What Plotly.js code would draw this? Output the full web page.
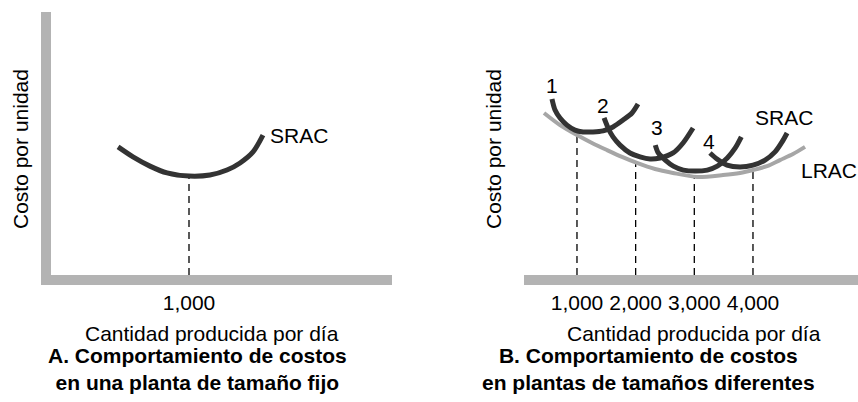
<!DOCTYPE html>
<html>
<head>
<meta charset="utf-8">
<script src="https://cdn.plot.ly/plotly-3.0.1.min.js"></script>
<style>
  html, body { margin: 0; padding: 0; background: #fff; }
  #chart { width: 858px; height: 402px; }
</style>
</head>
<body>
<div id="chart"></div>
<script>
// Panel A - una planta de tamaño fijo
const fixedQty = [486, 594, 717, 841, 1000, 1152, 1275, 1370, 1464, 1536];
const fixedCost = [48.7, 44.9, 41.4, 38.8, 37.6, 38.0, 39.9, 42.6, 46.8, 53.2];
const fixedTicks = [1000];
const fixedTickText = ['1,000'];
const fixedMinCost = [37.6];

// Panel B - plantas de tamaños diferentes
const srac1Qty = [574, 626, 711, 830, 966, 1103, 1273, 1444, 1614, 1785, 1938, 2040];
const srac1Cost = [66.9, 62.7, 59.7, 57.0, 55.1, 54.4, 54.4, 54.8, 56.3, 58.9, 61.6, 65.0];
const srac2Qty = [1462, 1530, 1614, 1734, 1904, 2075, 2245, 2416, 2638, 2808, 2979];
const srac2Cost = [59.7, 55.9, 52.5, 49.4, 46.4, 44.9, 44.1, 44.5, 46.4, 50.2, 55.9];
const srac3Qty = [2335, 2386, 2505, 2642, 2812, 3017, 3221, 3392, 3562, 3698, 3801];
const srac3Cost = [49.4, 46.4, 43.7, 41.4, 39.9, 39.5, 39.9, 41.4, 44.5, 48.3, 52.5];
const srac4Qty = [3267, 3387, 3557, 3779, 4001, 4206, 4376, 4496, 4581];
const srac4Cost = [46.4, 44.1, 41.8, 41.1, 41.8, 43.7, 46.8, 50.6, 54.0];
const lracQty = [438, 711, 1000, 1256, 1512, 1768, 2023, 2330, 2637, 3046, 3489, 3779, 4000, 4239, 4460, 4682, 4887];
const lracCost = [61.6, 57.0, 53.2, 50.2, 47.5, 44.9, 42.6, 40.3, 38.8, 37.3, 38.0, 38.8, 39.9, 41.4, 43.7, 46.0, 48.7];
const plantTicks = [1000, 2000, 3000, 4000];
const plantTickText = ['1,000', '2,000', '3,000', '4,000'];
const plantMinCost = [53.2, 42.8, 37.5, 39.9];

const FONT = 'Liberation Sans, Arial, Helvetica, sans-serif';
const FS = 21;
const DARK = '#333333';
const AXIS = '#b3b3b3';

function curve(x, y, xa, color, width) {
    return {
        x: x, y: y, xaxis: xa, yaxis: 'y',
        type: 'scatter', mode: 'lines',
        line: { color: color, width: width, shape: 'spline', smoothing: 0.8 },
        hoverinfo: 'skip', showlegend: false
    };
}

function dropLine(q, c, xa) {
    return {
        x: [q, q], y: [0, c], xaxis: xa, yaxis: 'y',
        type: 'scatter', mode: 'lines',
        line: { color: '#000', width: 1.3, dash: '7px,5px' },
        hoverinfo: 'skip', showlegend: false
    };
}

const data = [];
fixedTicks.forEach((q, i) => data.push(dropLine(q, fixedMinCost[i], 'x')));
data.push(curve(fixedQty, fixedCost, 'x', DARK, 5));

plantTicks.forEach((q, i) => data.push(dropLine(q, plantMinCost[i], 'x2')));
data.push(curve(lracQty, lracCost, 'x2', '#a6a6a6', 4));
data.push(curve(srac1Qty, srac1Cost, 'x2', DARK, 5));
data.push(curve(srac2Qty, srac2Cost, 'x2', DARK, 5));
data.push(curve(srac3Qty, srac3Cost, 'x2', DARK, 5));
data.push(curve(srac4Qty, srac4Cost, 'x2', DARK, 5));

const axisBase = {
    showline: true, linewidth: 10, linecolor: AXIS,
    showgrid: false, zeroline: false, ticks: '',
    fixedrange: true,
    tickfont: { family: FONT, size: FS, color: '#000' }
};

function label(text, x, y, xref, extra) {
    return Object.assign({
        text: text, x: x, y: y, xref: xref, yref: xref === 'paper' ? 'paper' : 'y',
        showarrow: false, xanchor: 'center', yanchor: 'middle',
        font: { family: FONT, size: FS, color: '#000' }
    }, extra || {});
}

const annotations = [
    label('SRAC', 1797, 53.2, 'x'),
    label('1', 574, 71.9, 'x2'),
    label('2', 1443, 64.6, 'x2'),
    label('3', 2363, 55.9, 'x2'),
    label('4', 3250, 50.6, 'x2'),
    label('SRAC', 4530, 59.7, 'x2'),
    label('LRAC', 5297, 39.9, 'x2'),
    label('Costo por unidad', 20 / 858, (402 - 149) / 402, 'paper', { textangle: -90 }),
    label('Costo por unidad', 493 / 858, (402 - 149) / 402, 'paper', { textangle: -90 }),
    label('Cantidad producida por día', 212 / 858, (402 - 333) / 402, 'paper'),
    label('Cantidad producida por día', 694 / 858, (402 - 333) / 402, 'paper'),
    label('<b>A. Comportamiento de costos<br>en una planta de tamaño fijo</b>',
        197 / 858, (402 - 369) / 402, 'paper'),
    label('<b>B. Comportamiento de costos<br>en plantas de tamaños diferentes</b>',
        648 / 858, (402 - 369) / 402, 'paper')
];

const layout = {
    width: 858, height: 402,
    margin: { l: 0, r: 0, t: 0, b: 0 },
    paper_bgcolor: '#fff', plot_bgcolor: '#fff',
    showlegend: false,
    font: { family: FONT, size: FS, color: '#000' },
    xaxis: Object.assign({}, axisBase, {
        domain: [51 / 858, 392 / 858], range: [0, 2471],
        tickvals: fixedTicks, ticktext: fixedTickText
    }),
    xaxis2: Object.assign({}, axisBase, {
        domain: [524 / 858, 1], range: [97, 5790],
        tickvals: plantTicks, ticktext: plantTickText, anchor: 'y'
    }),
    yaxis: Object.assign({}, axisBase, {
        domain: [127 / 402, 390 / 402], range: [0, 100], showticklabels: false
    }),
    yaxis2: Object.assign({}, axisBase, {
        domain: [127 / 402, 390 / 402], range: [0, 100], showticklabels: false,
        anchor: 'x2', overlaying: 'y'
    }),
    annotations: annotations
};

Plotly.newPlot('chart', data, layout, { displayModeBar: false, staticPlot: true });
</script>
</body>
</html>
